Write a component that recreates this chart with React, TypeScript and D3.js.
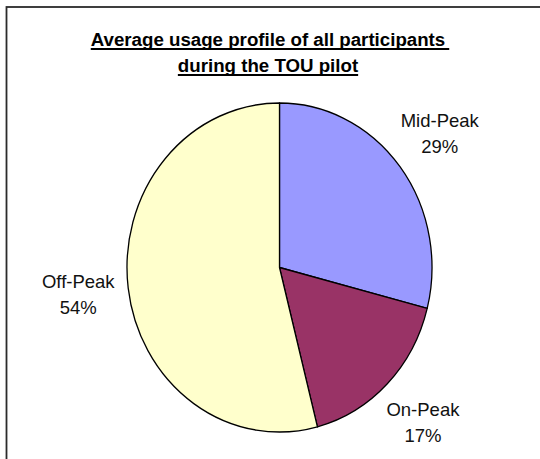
import React, { useEffect, useRef } from "react";
import * as d3 from "d3";

// Share of electricity use by time-of-use period
const periods = ["Mid-Peak", "On-Peak", "Off-Peak"];
const shares = [29, 17, 54];
const fills = ["#9999FF", "#993366", "#FFFFCC"];
const titleLines = ["Average usage profile of all participants", "during the TOU pilot"];

const W = 540;
const H = 459;
const FONT = "'Liberation Sans', Arial, Helvetica, sans-serif";

export default function App() {
  const ref = useRef<SVGSVGElement>(null);

  useEffect(() => {
    const svg = d3.select(ref.current);
    svg.selectAll("*").remove();

    // chart frame (runs past the right and bottom edges)
    svg
      .append("rect")
      .attr("x", 6.5)
      .attr("y", 7)
      .attr("width", W + 20)
      .attr("height", H + 20)
      .attr("fill", "#fff")
      .attr("stroke", "#2b2b2b")
      .attr("stroke-width", 1.8);

    // underlined two-line title
    const title = svg.append("g").attr("font-family", FONT).attr("font-weight", "bold").attr("font-size", 18.7);
    titleLines.forEach((line, i) => {
      const y = 45.8 + i * 26;
      const t = title
        .append("text")
        .attr("x", 268)
        .attr("y", y)
        .attr("text-anchor", "middle")
        .attr("fill", "#000")
        .text(line);
      const len = (t.node() as SVGTextElement).getComputedTextLength();
      const extra = i === 0 ? 4 : 0;
      title
        .append("line")
        .attr("x1", 268 - len / 2)
        .attr("x2", 268 + len / 2 + extra)
        .attr("y1", y + 3.2)
        .attr("y2", y + 3.2)
        .attr("stroke", "#000")
        .attr("stroke-width", 1.8);
    });

    // elliptical pie: drawn as a circle of radius ry, squeezed horizontally
    const cx = 279.5;
    const cy = 267.5;
    const rx = 152.5;
    const ry = 164.5;

    const pie = d3
      .pie<number>()
      .sort(null)
      .value((d) => d)
      .startAngle(0)
      .endAngle(2 * Math.PI);
    const arcs = pie(shares);

    const arc = d3.arc<d3.PieArcDatum<number>>().innerRadius(0).outerRadius(ry);
    const labelArc = d3
      .arc<d3.PieArcDatum<number>>()
      .innerRadius(ry * 1.33)
      .outerRadius(ry * 1.33);

    const sx = rx / ry;
    const plot = svg.append("g").attr("transform", `translate(${cx},${cy})`);
    plot
      .append("g")
      .attr("transform", `scale(${sx},1)`)
      .selectAll("path")
      .data(arcs)
      .join("path")
      .attr("d", (d) => arc(d) as string)
      .attr("fill", (_, i) => fills[i])
      .attr("stroke", "#000")
      .attr("stroke-width", 1.4)
      .attr("stroke-linejoin", "round");

    // two-line category / percentage labels outside each slice
    const labels = plot
      .append("g")
      .attr("font-family", FONT)
      .attr("font-size", 18.5)
      .attr("fill", "#111")
      .attr("text-anchor", "middle")
      .selectAll("g")
      .data(arcs)
      .join("g")
      .attr("transform", (d) => {
        const [x, y] = labelArc.centroid(d);
        return `translate(${x * sx},${y})`;
      });
    labels
      .append("text")
      .attr("y", -6.5)
      .text((_, i) => periods[i]);
    labels
      .append("text")
      .attr("y", 19.5)
      .text((d) => `${d.data}%`);
  }, []);

  return (
    <svg
      ref={ref}
      width={W}
      height={H}
      viewBox={`0 0 ${W} ${H}`}
      style={{ position: "absolute", left: 0, top: 0, background: "#fff" }}
    />
  );
}
